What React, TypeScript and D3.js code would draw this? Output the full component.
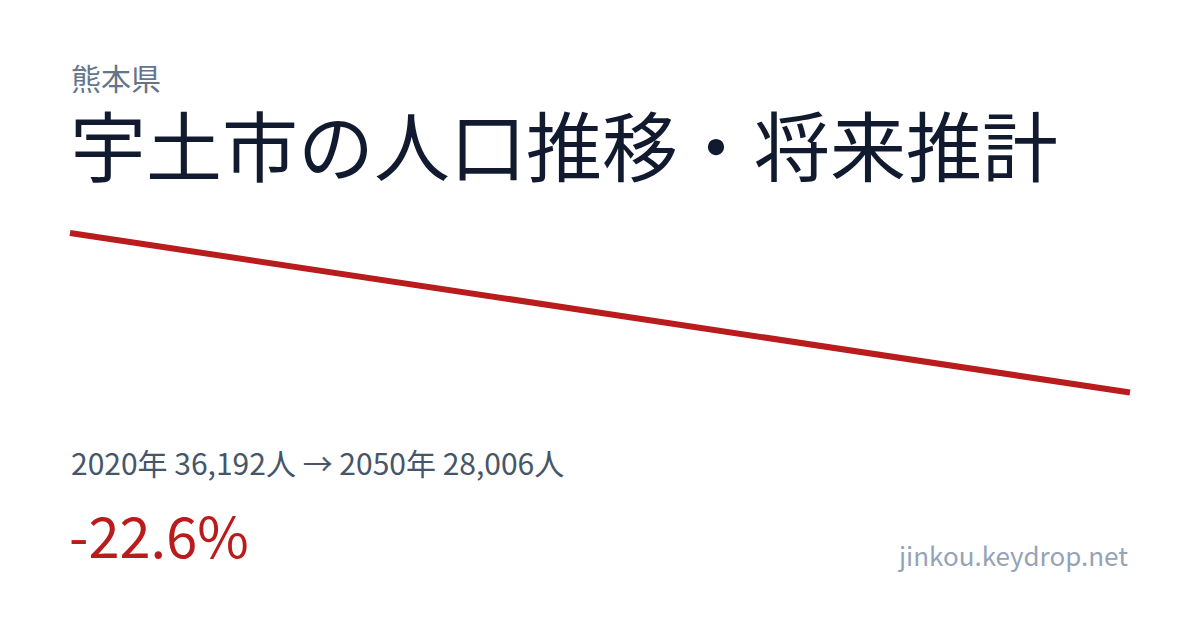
import React, { useEffect, useRef } from 'react';
import * as d3 from 'd3';

// data
const years = [2020, 2050];
const population = [36192, 28006];
const prefecture = '熊本県';
const title = '宇土市の人口推移・将来推計';
const siteLabel = 'jinkou.keydrop.net';

const W = 1200;
const H = 630;
const FONT = '"Noto Sans CJK JP", "Noto Sans", sans-serif';

export default function App() {
  const ref = useRef<SVGSVGElement>(null);

  useEffect(() => {
    const svg = d3.select(ref.current);
    svg.selectAll('*').remove();

    svg.append('rect').attr('width', W).attr('height', H).attr('fill', '#ffffff');

    const x = d3.scaleLinear().domain([years[0], years[years.length - 1]]).range([70, 1130]);
    const y = d3
      .scaleLinear()
      .domain([d3.min(population)!, d3.max(population)!])
      .range([392.5, 233]);

    const points = years.map((yr, i) => [yr, population[i]] as [number, number]);
    const line = d3
      .line<[number, number]>()
      .x((d) => x(d[0]))
      .y((d) => y(d[1]));

    svg
      .append('path')
      .datum(points)
      .attr('fill', 'none')
      .attr('stroke', '#b91c1c')
      .attr('stroke-width', 6)
      .attr('d', line);

    svg
      .append('text')
      .attr('x', 71)
      .attr('y', 90)
      .attr('font-family', FONT)
      .attr('font-size', 30)
      .attr('fill', '#64748b')
      .text(prefecture);

    svg
      .append('text')
      .attr('x', 70)
      .attr('y', 176)
      .attr('font-family', FONT)
      .attr('font-size', 76)
      .attr('fill', '#111a2e')
      .text(title);

    const first = population[0];
    const last = population[population.length - 1];
    const fmt = d3.format(',');
    svg
      .append('text')
      .attr('x', 71)
      .attr('y', 475)
      .attr('font-family', FONT)
      .attr('font-size', 30)
      .attr('fill', '#475569')
      .text(`${years[0]}年 ${fmt(first)}人 → ${years[years.length - 1]}年 ${fmt(last)}人`);

    const change = ((last - first) / first) * 100;
    svg
      .append('text')
      .attr('x', 69)
      .attr('y', 558)
      .attr('font-family', FONT)
      .attr('font-size', 56)
      .attr('fill', '#b91c1c')
      .text(`${change.toFixed(1)}%`);

    svg
      .append('text')
      .attr('x', 1128)
      .attr('y', 566)
      .attr('text-anchor', 'end')
      .attr('font-family', FONT)
      .attr('font-size', 26)
      .attr('fill', '#94a3b8')
      .text(siteLabel);
  }, []);

  return (
    <svg
      ref={ref}
      width={W}
      height={H}
      style={{ position: 'absolute', left: 0, top: 0, display: 'block' }}
    />
  );
}
